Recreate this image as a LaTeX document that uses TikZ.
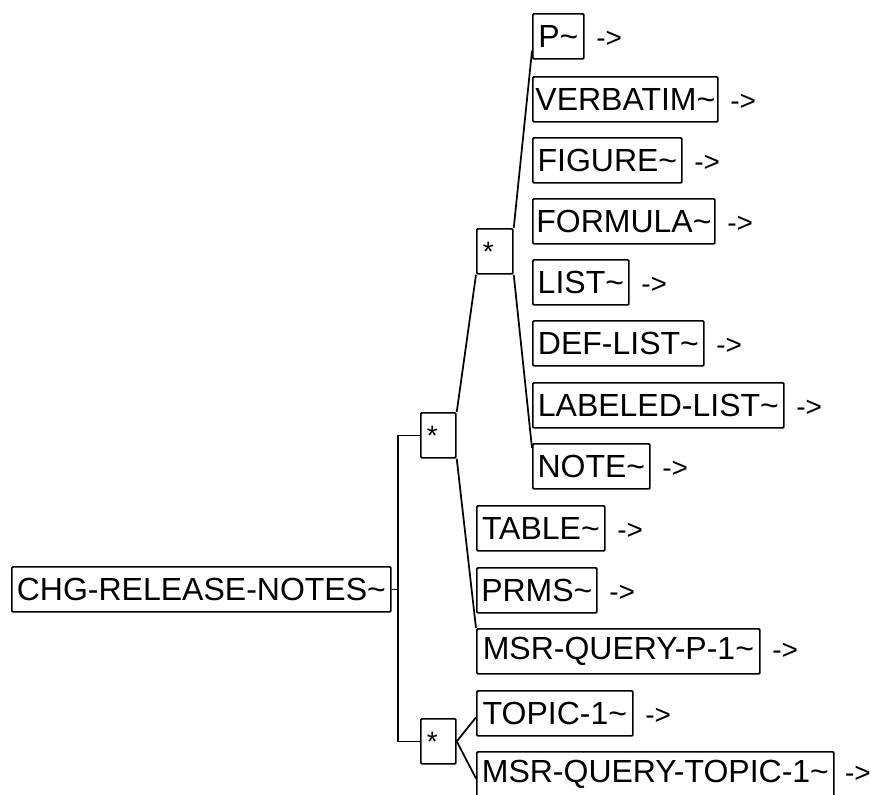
\documentclass[tikz,border=0pt]{standalone}
\usepackage{fontspec}
\setmainfont{Liberation Sans}
\usetikzlibrary{calc}
\begin{document}
\begin{tikzpicture}[x=0.75pt,y=-0.75pt,
  txt/.style={font=\fontsize{24}{28}\selectfont},
  el/.style={draw, line width=1.3pt, rounded corners=0.8pt, anchor=north west,
    minimum width=#1*0.75pt, minimum height=33.75pt, inner xsep=0.75pt, inner ysep=0pt, txt},
  star/.style={draw, line width=1.3pt, rounded corners=0.8pt, anchor=north west,
    minimum width=#1*0.75pt, minimum height=33.75pt, inner sep=0pt,
    label={[anchor=north west, inner sep=0pt, font=\fontsize{21}{24}\selectfont, xshift=5pt, yshift=-10.5pt]north west:*}},
  ar/.style={anchor=base west, inner sep=0pt, xshift=8.5pt, font=\fontsize{21}{24}\selectfont},
  ln/.style={line width=1.3pt}]
\fill[white] (0,0) rectangle (871,794);
\useasboundingbox (0,0) rectangle (871,794);

% elements
\node[el=379] (root) at (11,566) {CHG-RELEASE-NOTES\char`\~};
\node[star=35] (star1) at (420,412) {};
\node[star=35] (star2) at (420,718) {};
\node[star=36] (star3) at (476,228) {};

\node[el=51]  (p)    at (532,13)  {P\char`\~};
\node[el=185] (verb) at (532,76)  {VERBATIM\char`\~};
\node[el=149] (fig)  at (532,137) {FIGURE\char`\~};
\node[el=182] (form) at (532,198) {FORMULA\char`\~};
\node[el=96]  (list) at (532,259) {LIST\char`\~};
\node[el=171] (def)  at (532,320) {DEF-LIST\char`\~};
\node[el=251] (lab)  at (532,382) {LABELED-LIST\char`\~};
\node[el=117] (note) at (532,443) {NOTE\char`\~};
\node[el=128] (tab)  at (476,505) {TABLE\char`\~};
\node[el=120] (prms) at (476,567) {PRMS\char`\~};
\node[el=283] (msrp) at (476,628) {MSR-QUERY-P-1\char`\~};
\node[el=156] (topic) at (476,690) {TOPIC-1\char`\~};
\node[el=357] (mqt)  at (476,751) {MSR-QUERY-TOPIC-1\char`\~};

% arrows
\foreach \n in {p,verb,fig,form,list,def,lab,note,tab,prms,msrp,topic}
  \node[ar] (a\n) at (\n.base east) {->};
\node[ar, xshift=-1pt] (amqt) at (mqt.base east) {->};

% connectors
\coordinate (j) at (398,590);
\draw[ln] (root.east) -- (root.east -| j);
\draw[ln] (star1.west) -- (star1.west -| j) -- (star2.west -| j) -- (star2.west);
\draw[ln] (star1.north east) -- (star3.south west);
\draw[ln] (star1.south east) -- (msrp.north west);
\draw[ln] (star3.north east) -- ($(p.south west)+(0,-9)$);
\draw[ln] (star3.south east) -- ($(note.north west)+(0,5)$);
\draw[ln] (star2.east) -- ($(topic.west)+(0,4)$);
\draw[ln] (star2.east) -- ($(mqt.west)+(0,4)$);
\end{tikzpicture}
\end{document}
